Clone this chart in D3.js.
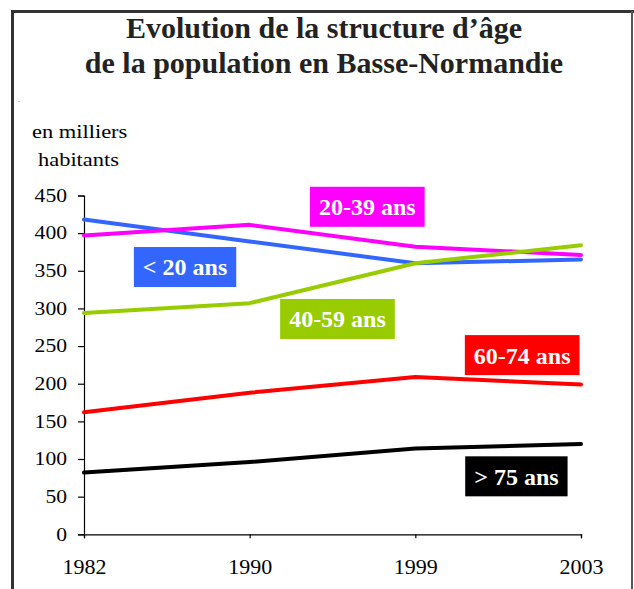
<!DOCTYPE html>
<html>
<head>
<meta charset="utf-8">
<script src="https://cdn.jsdelivr.net/npm/d3@7/dist/d3.min.js"></script>
<style>
  body { margin: 0; background: #fff; }
</style>
</head>
<body>
<svg id="chart" width="634" height="589"></svg>
<script>
const years = ["1982", "1990", "1999", "2003"];
const yTicks = [0, 50, 100, 150, 200, 250, 300, 350, 400, 450];

const under20 = [418, 389, 360, 365];
const age20to39 = [397, 411, 382, 371];
const age40to59 = [294, 307, 360, 384];
const age60to74 = [162, 188, 209, 199];
const over75 = [82, 96, 114, 120];

const series = [
  { name: "< 20 ans", values: under20, color: "#3366FF" },
  { name: "20-39 ans", values: age20to39, color: "#FF00FF" },
  { name: "40-59 ans", values: age40to59, color: "#99CC00" },
  { name: "60-74 ans", values: age60to74, color: "#FF0000" },
  { name: "> 75 ans", values: over75, color: "#000000" }
];

// where each label box sits, in (year index, value) units
const labelAt = {
  "< 20 ans": [0.61, 355],
  "20-39 ans": [1.71, 435],
  "40-59 ans": [1.53, 286],
  "60-74 ans": [2.645, 238],
  "> 75 ans": [2.61, 77]
};

const serif = "'Liberation Serif', 'Times New Roman', Times, serif";

const svg = d3.select("#chart")
  .attr("font-family", serif);

const plot = { left: 84, right: 581, top: 195.5, bottom: 534.3 };

const x = d3.scaleLinear()
    .domain([0, years.length - 1])
    .range([plot.left, plot.right]);

const y = d3.scaleLinear()
    .domain([0, 450])
    .range([plot.bottom, plot.top]);

// stretch text horizontally like the original chart
function stretch(sel, k) {
  sel.each(function () {
    const len = this.getComputedTextLength();
    d3.select(this)
      .attr("textLength", len * k)
      .attr("lengthAdjust", "spacingAndGlyphs");
  });
}

// frame
svg.append("line")
  .attr("x1", 12.5).attr("y1", 10).attr("x2", 12.5).attr("y2", 589)
  .attr("stroke", "#333").attr("stroke-width", 3);
svg.append("line")
  .attr("x1", 11).attr("y1", 11.5).attr("x2", 634).attr("y2", 11.5)
  .attr("stroke", "#333").attr("stroke-width", 3);
svg.append("line")
  .attr("x1", 632).attr("y1", 11).attr("x2", 632).attr("y2", 589)
  .attr("stroke", "#555").attr("stroke-width", 2);

// title
const title = svg.append("text")
  .attr("x", 324)
  .attr("text-anchor", "middle")
  .style("font-family", serif)
  .style("font-size", "30px")
  .style("font-weight", "bold")
  .style("fill", "#222");
title.append("tspan").attr("x", 324).attr("y", 38).text("Evolution de la structure d’âge");
title.append("tspan").attr("x", 324).attr("y", 73).text("de la population en Basse-Normandie");

svg.append("text")
  .attr("x", 18).attr("y", 102)
  .style("font-family", serif)
  .style("font-size", "8px")
  .style("fill", "#555")
  .text(".");

// unit label
svg.append("text")
  .attr("x", 32).attr("y", 138)
  .style("font-family", serif)
  .style("font-size", "19.5px")
  .text("en milliers")
  .call(stretch, 1.15);

svg.append("text")
  .attr("x", 38).attr("y", 166)
  .style("font-family", serif)
  .style("font-size", "19.5px")
  .text("habitants")
  .call(stretch, 1.15);

// axes
const yAxis = svg.append("g")
  .attr("transform", `translate(${plot.left},0)`)
  .call(d3.axisLeft(y).tickValues(yTicks).tickSize(6).tickPadding(11).tickFormat(d3.format("d")));

yAxis.attr("font-family", serif);
yAxis.selectAll("text")
  .style("font-family", serif)
  .style("font-size", "18px")
  .style("fill", "#000")
  .call(stretch, 1.2);

const xAxis = svg.append("g")
  .attr("transform", `translate(0,${plot.bottom})`)
  .call(d3.axisBottom(x).tickValues(d3.range(years.length)).tickSize(4).tickPadding(20).tickFormat(i => years[i]));

xAxis.attr("font-family", serif);
xAxis.selectAll("text")
  .style("font-family", serif)
  .style("font-size", "22px")
  .style("fill", "#000");

svg.selectAll(".domain, .tick line")
  .attr("stroke", "#000")
  .attr("stroke-width", 1.2);

// lines
const line = d3.line()
  .x((d, i) => x(i))
  .y(d => y(d));

svg.selectAll(".serie")
  .data(series)
  .enter()
  .append("path")
  .attr("class", "serie")
  .attr("d", d => line(d.values))
  .attr("fill", "none")
  .attr("stroke", d => d.color)
  .attr("stroke-width", 4)
  .attr("stroke-linecap", "round")
  .attr("stroke-linejoin", "round");

// label boxes
const labels = svg.selectAll(".label")
  .data(series)
  .enter()
  .append("g")
  .attr("class", "label")
  .attr("transform", d => `translate(${x(labelAt[d.name][0])},${y(labelAt[d.name][1])})`);

labels.append("text")
  .attr("text-anchor", "middle")
  .attr("dy", "0.35em")
  .style("font-family", serif)
  .style("font-size", "24px")
  .style("font-weight", "bold")
  .style("fill", "#fff")
  .text(d => d.name);

labels.each(function (d) {
  const w = d3.select(this).select("text").node().getComputedTextLength() + 18;
  d3.select(this).insert("rect", "text")
    .attr("x", -w / 2)
    .attr("y", -20)
    .attr("width", w)
    .attr("height", 40)
    .attr("fill", d.color);
});
</script>
</body>
</html>
